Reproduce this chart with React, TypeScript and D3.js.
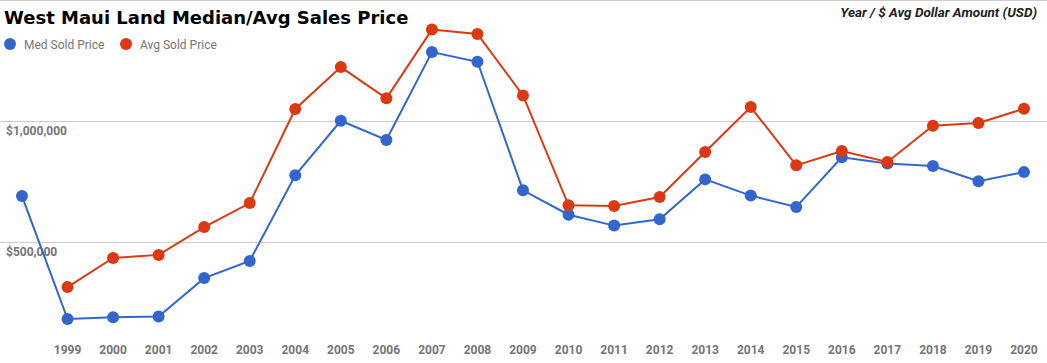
import { useRef, useEffect } from "react";
import * as d3 from "d3";

const years = [
  "1998", "1999", "2000", "2001", "2002", "2003", "2004", "2005", "2006", "2007", "2008",
  "2009", "2010", "2011", "2012", "2013", "2014", "2015", "2016", "2017", "2018", "2019", "2020",
];
const yearLabels = years.slice(1);
const medSold = [
  691000, 183000, 190000, 193000, 352000, 423000, 777000, 1002000, 923000, 1286000, 1246000,
  715000, 614000, 569000, 595000, 760000, 693000, 646000, 851000, 826000, 815000, 752000, 790000,
];
const avgSold: (number | null)[] = [
  null, 315000, 435000, 448000, 563000, 662000, 1051000, 1224000, 1095000, 1379000, 1361000,
  1107000, 653000, 650000, 687000, 873000, 1059000, 818000, 877000, 832000, 982000, 993000, 1052000,
];
const yTicks = [500000, 1000000, 1500000];
const series = [
  { key: "med", label: "Med Sold Price", color: "#3366cc", values: medSold as (number | null)[] },
  { key: "avg", label: "Avg Sold Price", color: "#dc3912", values: avgSold },
];

const W = 1047;
const H = 363;

export default function App() {
  const ref = useRef<SVGSVGElement>(null);

  useEffect(() => {
    document.body.style.margin = "0";
    if (!ref.current) return;
    const svg = d3.select(ref.current);
    svg.selectAll("*").remove();

    const x = d3.scalePoint().domain(years).range([22, 1024]);
    const y = d3.scaleLinear().domain([0, 1500000]).range([363.3, 0.3]);

    // gridlines
    svg.append("g").selectAll("line").data(yTicks).enter().append("line")
      .attr("x1", 0).attr("x2", W)
      .attr("y1", d => Math.round(y(d)) + 0.5).attr("y2", d => Math.round(y(d)) + 0.5)
      .attr("stroke", "#cccccc").attr("stroke-width", 1);

    // y labels (inside, below gridline)
    svg.append("g").selectAll("text").data(yTicks.filter(d => d < 1500000)).enter().append("text")
      .attr("x", 6).attr("y", d => y(d) + 14)
      .attr("font-family", "Roboto, sans-serif").attr("font-size", "12px").attr("font-weight", "bold")
      .attr("fill", "#757575")
      .text(d => d3.format("$,")(d));

    // x labels
    svg.append("g").selectAll("text").data(yearLabels).enter().append("text")
      .attr("x", d => x(d)!).attr("y", 354).attr("text-anchor", "middle")
      .attr("font-family", "Roboto, sans-serif").attr("font-size", "12px").attr("font-weight", "bold")
      .attr("fill", "#757575")
      .text(d => d);

    series.forEach(s => {
      const pts = years.map((yr, i) => ({ yr, v: s.values[i] }));
      const lineGen = d3.line<{ yr: string; v: number | null }>()
        .defined(d => d.v != null)
        .x(d => x(d.yr)!)
        .y(d => y(d.v as number));
      svg.append("path").datum(pts).attr("d", lineGen)
        .attr("fill", "none").attr("stroke", s.color).attr("stroke-width", 2);
      svg.append("g").selectAll("circle").data(pts.filter(d => d.v != null)).enter().append("circle")
        .attr("cx", d => x(d.yr)!).attr("cy", d => y(d.v as number)).attr("r", 6)
        .attr("fill", s.color);
    });

    // title
    svg.append("text").attr("x", 4).attr("y", 24)
      .attr("font-family", "'DejaVu Sans', Verdana, sans-serif").attr("font-size", "18px").attr("font-weight", "bold")
      .attr("fill", "#000").text("West Maui Land Median/Avg Sales Price");

    svg.append("text").attr("x", 1037).attr("y", 17).attr("text-anchor", "end")
      .attr("font-family", "Roboto, sans-serif").attr("font-size", "13.5px").attr("font-weight", "bold")
      .attr("font-style", "italic").attr("fill", "#222").text("Year / $ Avg Dollar Amount (USD)");

    // legend
    const leg = svg.append("g");
    const legX = [10, 126];
    series.forEach((s, i) => {
      leg.append("circle").attr("cx", legX[i]).attr("cy", 44).attr("r", 6).attr("fill", s.color);
      leg.append("text").attr("x", legX[i] + 14).attr("y", 48.5)
        .attr("font-family", "Roboto, sans-serif").attr("font-size", "12px")
        .attr("fill", "#757575").text(s.label);
    });
  }, []);

  return <svg ref={ref} width={W} height={H} style={{ display: "block" }} />;
}
